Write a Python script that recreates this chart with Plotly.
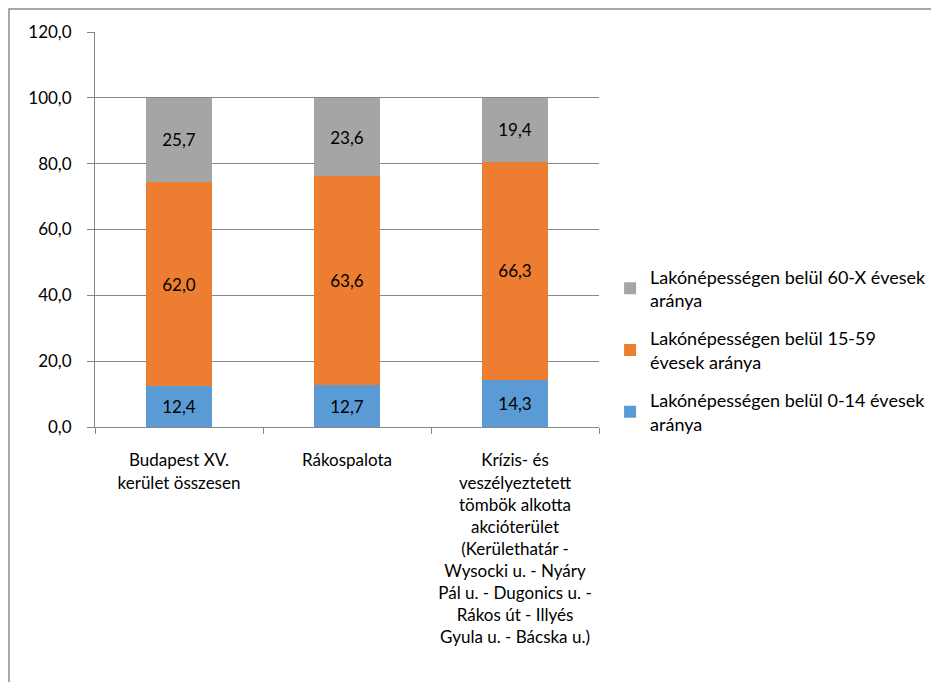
import plotly.graph_objects as go

categories = [
    "Budapest XV.<br>kerület összesen",
    "Rákospalota",
    "Krízis- és<br>veszélyeztetett<br>tömbök alkotta<br>akcióterület<br>(Kerülethatár -<br>Wysocki u. - Nyáry<br>Pál u. - Dugonics u. -<br>Rákos út - Illyés<br>Gyula u. - Bácska u.)",
]
age_0_14 = [12.4, 12.7, 14.3]
age_15_59 = [62.0, 63.6, 66.3]
age_60_x = [25.7, 23.6, 19.4]

series_names = [
    "Lakónépességen belül 0-14 évesek<br>aránya",
    "Lakónépességen belül 15-59<br>évesek aránya",
    "Lakónépességen belül 60-X évesek<br>aránya",
]
colors = ["#5B9BD5", "#ED7D31", "#A5A5A5"]
y_ticks = [0, 20, 40, 60, 80, 100, 120]

font_family = "Lato, Open Sans, sans-serif"

fig = go.Figure()
for i, (name, vals, col) in enumerate(zip(series_names, [age_0_14, age_15_59, age_60_x], colors)):
    fig.add_trace(go.Bar(
        x=categories,
        y=vals,
        name=name,
        legendgroup="g{}".format(i),
        legendrank=3 - i,
        marker=dict(color=col, line=dict(width=0)),
        texttemplate="%{y:.1f}",
        textposition="inside",
        insidetextanchor="middle",
        textangle=0,
        textfont=dict(color="black", size=17, family=font_family),
    ))

# chart border (only left/top edges fall inside the window)
fig.add_shape(type="rect", xref="paper", yref="paper",
              x0=-86.0 / 504, x1=2.0, y0=-2.0, y1=1 + 23.0 / 395,
              line=dict(color="#8C8C8C", width=1.5), layer="below")

fig.update_layout(
    width=939, height=682,
    margin=dict(l=87, r=348, t=24, b=263),
    barmode="stack",
    bargap=0.607,
    separators=", ",
    paper_bgcolor="white",
    plot_bgcolor="white",
    font=dict(family=font_family, size=17, color="black"),
    showlegend=True,
    legend=dict(
        x=1.022, xanchor="left",
        y=0.427, yanchor="top",
        traceorder="grouped",
        font=dict(size=18, family=font_family),
        tracegroupgap=12,
        itemwidth=30,
    ),
    uniformtext=dict(minsize=10, mode="show"),
)

fig.update_xaxes(
    showline=True, linecolor="#868686", linewidth=1,
    ticks="outside", ticklen=6, tickcolor="#868686",
    tickson="boundaries",
    ticklabelstandoff=18,
    tickfont=dict(size=17),
)
fig.update_yaxes(
    range=[0, 120],
    tickvals=y_ticks,
    tickformat=".1f",
    showline=True, linecolor="#868686", linewidth=1,
    ticks="outside", ticklen=7, tickcolor="#868686",
    ticklabelstandoff=12,
    showgrid=True, gridcolor="#868686", gridwidth=1,
    zeroline=False,
    tickfont=dict(size=17),
)

fig.write_html("out.html")
